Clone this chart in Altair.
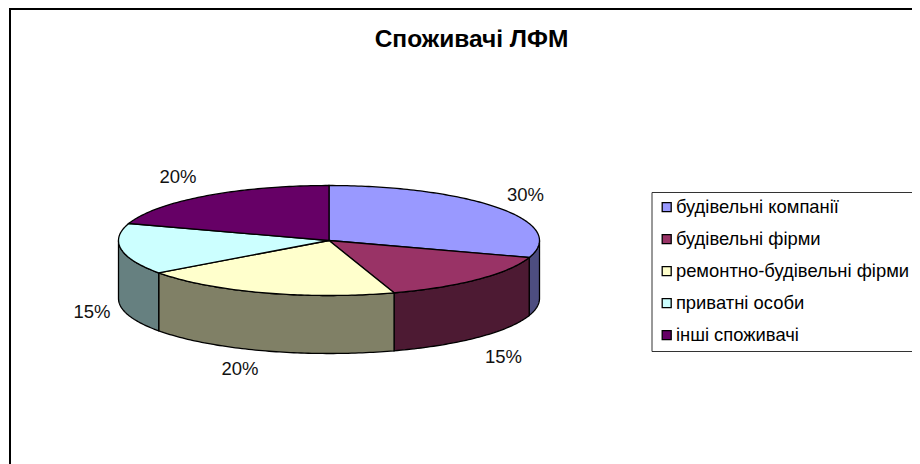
import math
import altair as alt

names = ["будівельні компанії", "будівельні фірми", "ремонтно-будівельні фірми", "приватні особи", "інші споживачі"]
shares = [30, 15, 20, 15, 20]
top_colors = ["#9999FF", "#993366", "#FFFFCC", "#CCFFFF", "#660066"]
side_colors = ["#4D4D80", "#4D1A33", "#808066", "#668080", "#330033"]
title = "Споживачі ЛФМ"

CX, CY, A, B, DEPTH = 321, 232.5, 210.5, 55, 58.0


def pt(deg, dy=0.0):
    r = math.radians(deg)
    return [CX + A * math.sin(r), CY - B * math.cos(r) + dy]


def arc(a0, a1, dy=0.0):
    n = max(2, int(abs(a1 - a0)) + 1)
    return [pt(a0 + (a1 - a0) * i / n, dy) for i in range(n + 1)]


top_features, side_features, labels = [], [], []
start = 0.0
label_pos = [(517.5, 187), (495.5, 349), (232, 361), (84, 304), (170, 169)]
for i, (name, share) in enumerate(zip(names, shares)):
    end = start + share * 3.6
    ring = [[CX, CY]] + arc(start, end) + [[CX, CY]]
    top_features.append({"type": "Feature", "geometry": {"type": "Polygon", "coordinates": [ring]},
                         "properties": {"name": name}})
    s0, s1 = max(start, 90.0), min(end, 270.0)
    if s0 < s1:
        ring = arc(s0, s1) + arc(s1, s0, DEPTH)
        ring.append(ring[0])
        side_features.append({"type": "Feature", "geometry": {"type": "Polygon", "coordinates": [ring]},
                              "properties": {"name": name, "side": side_colors[i]}})
    labels.append({"x": label_pos[i][0], "y": label_pos[i][1], "t": f"{share}%"})
    start = end

proj = alt.Projection(type="identity", reflectY=False, scale=1, translate=[0, 0])
W, H = 904, 456
xs = alt.Scale(domain=[0, W], range=[0, W])
ys = alt.Scale(domain=[0, H], range=[0, H])

sides = alt.Chart(alt.Data(values=side_features)).mark_geoshape(stroke="black", strokeWidth=1.3).encode(
    color=alt.Color("properties.side:N", scale=None, legend=None)
).project(**proj.to_dict())

tops = alt.Chart(alt.Data(values=top_features)).mark_geoshape(stroke="black", strokeWidth=1.3).encode(
    color=alt.Color("properties.name:N",
                    scale=alt.Scale(domain=names, range=top_colors),
                    sort=names,
                    legend=alt.Legend(orient="none", legendX=643.5, legendY=184, title=None,
                                      symbolType="square", symbolSize=81, symbolStrokeColor="black",
                                      symbolStrokeWidth=1.3, labelFont="Liberation Sans", labelFontSize=18.4,
                                      labelColor="black", rowPadding=13, strokeColor="#333333",
                                      padding=6, labelLimit=400, labelOffset=0, offset=0,
                                      fillColor="white"))
).project(**proj.to_dict())

txt = alt.Chart(alt.Data(values=labels)).mark_text(font="Liberation Sans", fontSize=18.5, color="#111111").encode(
    x=alt.X("x:Q", scale=xs, axis=None), y=alt.Y("y:Q", scale=ys, axis=None), text="t:N"
)

head = alt.Chart(alt.Data(values=[{"x": 463.5, "y": 32, "t": title}])).mark_text(
    font="Liberation Sans", fontSize=24.5, fontWeight="bold", color="black").encode(
    x=alt.X("x:Q", scale=xs, axis=None), y=alt.Y("y:Q", scale=ys, axis=None), text="t:N"
)

frame_v = alt.Chart(alt.Data(values=[{"x": 2, "y": 0, "y2": H}])).mark_rule(color="black", strokeWidth=2).encode(
    x=alt.X("x:Q", scale=xs, axis=None), y=alt.Y("y:Q", scale=ys, axis=None), y2="y2:Q")
frame_h = alt.Chart(alt.Data(values=[{"y": 1, "x": 1, "x2": W}])).mark_rule(color="black", strokeWidth=2).encode(
    y=alt.Y("y:Q", scale=ys, axis=None), x=alt.X("x:Q", scale=xs, axis=None), x2="x2:Q")

chart = alt.layer(sides, tops, txt, head, frame_v, frame_h).resolve_scale(color="independent").properties(
    width=W, height=H, padding=0, background="white",
    autosize=alt.AutoSizeParams(type="none")
).configure_view(stroke=None)

chart.save("out.html", embed_options={"renderer": "svg", "actions": False})
